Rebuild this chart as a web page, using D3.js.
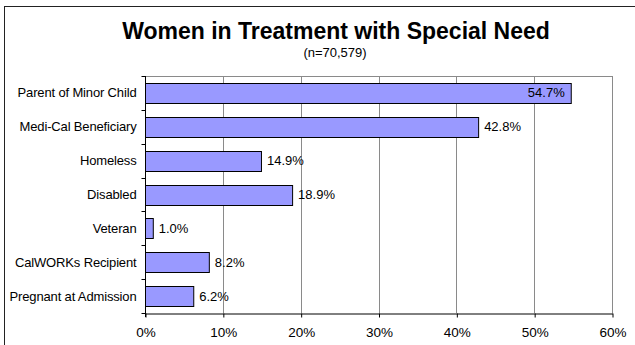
<!DOCTYPE html>
<html>
<head>
<meta charset="utf-8">
<script src="https://cdn.jsdelivr.net/npm/d3@7"></script>
<style>
  html, body { margin: 0; padding: 0; background: #fff; }
  svg { display: block; font-family: "Liberation Sans", Arial, sans-serif; }
</style>
</head>
<body>
<svg id="chart" width="635" height="345"></svg>
<script>
// Women in treatment, share with each special need
const categories = [
  "Parent of Minor Child",
  "Medi-Cal Beneficiary",
  "Homeless",
  "Disabled",
  "Veteran",
  "CalWORKs Recipient",
  "Pregnant at Admission"
];
const values = [54.7, 42.8, 14.9, 18.9, 1.0, 8.2, 6.2];
const xTicks = [0, 10, 20, 30, 40, 50, 60];
const titleText = "Women in Treatment with Special Need";
const subtitleText = "(n=70,579)";

const svg = d3.select("#chart");
const W = 635, H = 345;
const plot = { left: 145, right: 612, top: 76, bottom: 313 };

// outer chart frame (runs off the right and bottom edges)
svg.append("rect")
  .attr("x", 4.5).attr("y", 6.5)
  .attr("width", W + 20).attr("height", H + 20)
  .attr("fill", "#fff").attr("stroke", "#222").attr("stroke-width", 1);

svg.append("text")
  .attr("x", 336).attr("y", 39)
  .attr("text-anchor", "middle")
  .attr("font-size", 23).attr("font-weight", "bold")
  .attr("fill", "#000")
  .text(titleText);

svg.append("text")
  .attr("x", 335).attr("y", 57)
  .attr("text-anchor", "middle")
  .attr("font-size", 13).attr("fill", "#000")
  .text(subtitleText);

const x = d3.scaleLinear().domain([0, 60]).range([plot.left, plot.right]);
const y = d3.scaleBand().domain(categories)
  .range([plot.top, plot.bottom]).paddingInner(0.41).paddingOuter(0.205);

// gridlines
svg.append("g").selectAll("line").data(xTicks.slice(1)).join("line")
  .attr("x1", d => Math.round(x(d)) + 0.5).attr("x2", d => Math.round(x(d)) + 0.5)
  .attr("y1", plot.top).attr("y2", plot.bottom)
  .attr("stroke", "#8a8a8a").attr("stroke-width", 1);

// plot area top edge
svg.append("line")
  .attr("x1", plot.left).attr("x2", Math.round(plot.right) + 0.5)
  .attr("y1", plot.top + 0.5).attr("y2", plot.top + 0.5)
  .attr("stroke", "#8a8a8a");

// bars
svg.append("g").selectAll("rect").data(categories).join("rect")
  .attr("x", x(0) + 0.5)
  .attr("y", d => Math.round(y(d)) + 0.5)
  .attr("width", (d, i) => x(values[i]) - x(0))
  .attr("height", Math.round(y.bandwidth()))
  .attr("fill", "#9999ff").attr("stroke", "#000").attr("stroke-width", 1);

// value labels; the longest bar carries its label inside the end
const inside = v => x(v) + 48 > plot.right;
svg.append("g").selectAll("text").data(categories).join("text")
  .attr("x", (d, i) => inside(values[i]) ? x(values[i]) - 6 : x(values[i]) + 6)
  .attr("text-anchor", (d, i) => inside(values[i]) ? "end" : "start")
  .attr("y", d => y(d) + y.bandwidth() / 2 + 4.5)
  .attr("font-size", 13).attr("fill", "#000")
  .text((d, i) => values[i].toFixed(1) + "%");

// category axis
const yAxis = svg.append("g")
  .attr("transform", `translate(${plot.left + 0.5},0)`);
yAxis.append("line")
  .attr("y1", plot.top).attr("y2", plot.bottom + 4)
  .attr("stroke", "#000");
const bounds = d3.range(categories.length + 1).map(i => plot.top + i * (plot.bottom - plot.top) / categories.length);
yAxis.selectAll("line.tick").data(bounds).join("line")
  .attr("class", "tick")
  .attr("x1", -4).attr("x2", 0)
  .attr("y1", d => Math.round(d) + 0.5).attr("y2", d => Math.round(d) + 0.5)
  .attr("stroke", "#000");
yAxis.selectAll("text").data(categories).join("text")
  .attr("x", -9)
  .attr("y", d => y(d) + y.bandwidth() / 2 + 4.5)
  .attr("text-anchor", "end")
  .attr("font-size", 13).attr("fill", "#000")
  .attr("letter-spacing", -0.15)
  .text(d => d);

// value axis
const xAxis = d3.axisBottom(x).tickValues(xTicks).tickFormat(d => d + "%")
  .tickSizeInner(4).tickSizeOuter(0);
const gx = svg.append("g")
  .attr("transform", `translate(0.5,${Math.round(plot.bottom) + 0.5})`)
  .call(xAxis);
gx.select(".domain").attr("stroke", "#000");
gx.selectAll(".tick line").attr("stroke", "#000");
gx.selectAll(".tick text")
  .attr("font-family", "Liberation Sans, Arial, sans-serif")
  .attr("font-size", 13.5).attr("fill", "#000").attr("dy", "1.25em");
</script>
</body>
</html>
